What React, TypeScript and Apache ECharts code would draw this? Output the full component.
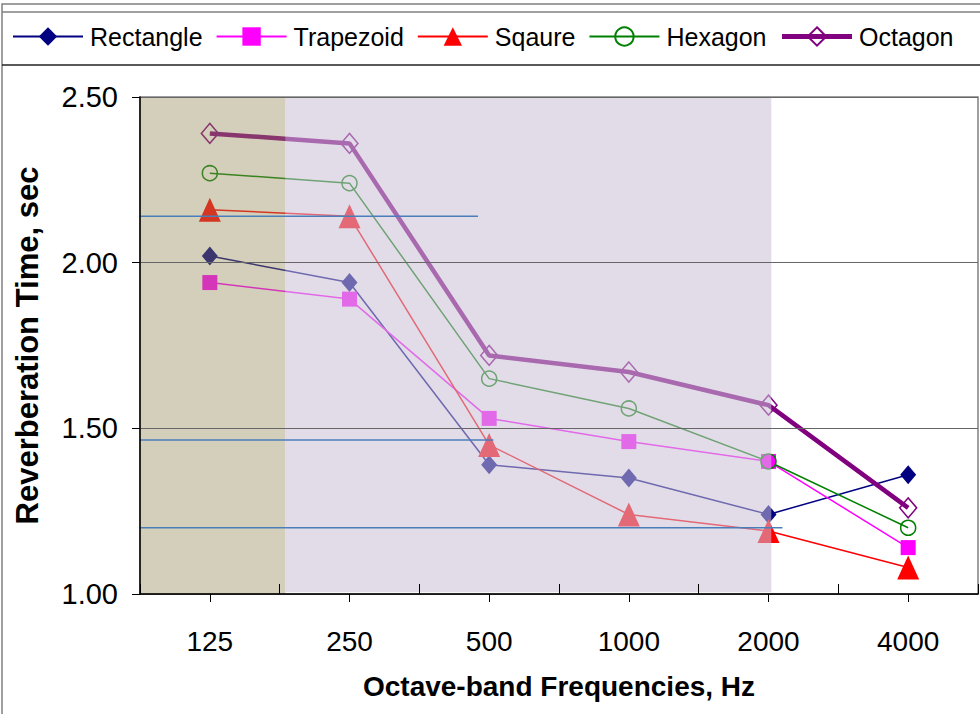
import React, { useEffect, useRef } from "react";
import * as echarts from "echarts";

const categories = ["125", "250", "500", "1000", "2000", "4000"];
const rectangle = [2.02, 1.94, 1.39, 1.35, 1.24, 1.36];
const trapezoid = [1.94, 1.89, 1.53, 1.46, 1.4, 1.14];
const sqaure = [2.16, 2.14, 1.45, 1.24, 1.19, 1.08];
const hexagon = [2.27, 2.24, 1.65, 1.56, 1.4, 1.2];
const octagon = [2.39, 2.36, 1.72, 1.67, 1.57, 1.26];

const yMin = 1.0;
const yMax = 2.5;
const yStep = 0.5;

// horizontal reference lines (value, start and end in category units)
const refLevels = [2.14, 1.465, 1.2];
const refStarts = [-0.1, -0.1, -0.1];
const refEnds = [2.42, 2.53, 4.6];

// shaded bands in category units
const bandStarts = [0, 1.04];
const bandEnds = [1.04, 4.52];
const bandBottoms = [1.0, 1.005];
const bandColors = ["rgba(148,135,82,0.4)", "rgba(202,191,213,0.55)"];

const FONT = "'Liberation Sans', Arial, Helvetica, sans-serif";

export default function App() {
  const ref = useRef<HTMLDivElement>(null);
  useEffect(() => {
    const chart = echarts.init(ref.current!, null, { renderer: "svg" });
    const mk = (
      name: string,
      data: number[],
      color: string,
      symbol: string,
      size: number | number[],
      hollow: boolean,
      width: number
    ) => ({
      name,
      type: "line",
      data,
      xAxisIndex: 0,
      yAxisIndex: 0,
      z: 2,
      symbol,
      symbolSize: size,
      lineStyle: { color, width },
      itemStyle: hollow
        ? { color: "rgba(255,255,255,0)", borderColor: color, borderWidth: 1.5 }
        : { color },
      emphasis: { disabled: true },
    });
    const series: any[] = [
      mk("Rectangle", rectangle, "#000080", "diamond", [16, 19], false, 1.5),
      mk("Trapezoid", trapezoid, "#FF00FF", "rect", [15, 15], false, 1.5),
      mk("Sqaure", sqaure, "#FF0000", "triangle", [22, 24], false, 1.5),
      mk("Hexagon", hexagon, "#008000", "circle", 15, true, 1.5),
      mk("Octagon", octagon, "#800080", "diamond", [17, 20], true, 4.5),
      {
        name: "bands",
        type: "custom",
        xAxisIndex: 2,
        yAxisIndex: 0,
        z: 3,
        silent: true,
        data: bandStarts.map((s, i) => [s, bandEnds[i], bandBottoms[i], yMax, i]),
        renderItem: (params: any, api: any) => {
          const p0 = api.coord([api.value(0), api.value(3)]);
          const p1 = api.coord([api.value(1), api.value(2)]);
          return {
            type: "rect",
            shape: { x: p0[0], y: p0[1], width: p1[0] - p0[0], height: p1[1] - p0[1] },
            style: { fill: bandColors[api.value(4)] },
          };
        },
      },
      ...refLevels.map((v, i) => ({
        name: "ref" + i,
        type: "line",
        xAxisIndex: 2,
        yAxisIndex: 0,
        data: [
          [refStarts[i], v],
          [refEnds[i], v],
        ],
        symbol: "none",
        clip: false,
        z: 4,
        silent: true,
        lineStyle: { color: "#4A7EBB", width: 1.5 },
      })),
    ];

    chart.setOption({
      animation: false,
      textStyle: { fontFamily: FONT },
      graphic: [
        {
          type: "rect",
          shape: { x: 2, y: 4, width: 1000, height: 720 },
          style: { fill: "none", stroke: "#808080", lineWidth: 1.5 },
          z: 10,
        },
        {
          type: "line",
          shape: { x1: 2, y1: 12, x2: 990, y2: 12 },
          style: { stroke: "#808080", lineWidth: 1.5 },
          z: 10,
        },
        {
          type: "line",
          shape: { x1: 2, y1: 65, x2: 990, y2: 65 },
          style: { stroke: "#222", lineWidth: 1.5 },
          z: 10,
        },
      ],
      legend: {
        data: [
          { name: "Rectangle" },
          { name: "Trapezoid" },
          { name: "Sqaure" },
          { name: "Hexagon" },
          { name: "Octagon", lineStyle: { width: 5 } },
        ],
        left: 12,
        top: 24,
        padding: 0,
        itemWidth: 70,
        itemHeight: 23,
        itemGap: 13,
        selectedMode: false,
        textStyle: {
          fontFamily: FONT,
          fontSize: 25,
          color: "#000",
          padding: [0, 0, 0, 2],
        },
      },
      grid: {
        left: 140,
        right: 2,
        top: 97,
        bottom: 120,
        show: true,
        borderColor: "#808080",
        borderWidth: 1.5,
        backgroundColor: "#fff",
        outerBoundsMode: "none",
        containLabel: false,
      },
      xAxis: [
        {
          type: "category",
          data: categories,
          position: "bottom",
          boundaryGap: true,
          z: 5,
          axisLine: { show: true, lineStyle: { color: "#000", width: 1.5 } },
          axisTick: {
            show: true,
            alignWithLabel: true,
            inside: false,
            length: 8,
            lineStyle: { color: "#000" },
          },
          axisLabel: {
            fontFamily: FONT,
            fontSize: 28,
            color: "#000",
            margin: 33,
          },
          name: "Octave-band Frequencies, Hz",
          nameLocation: "middle",
          nameGap: 78,
          nameTextStyle: {
            fontFamily: FONT,
            fontSize: 28,
            fontWeight: "bold",
            color: "#000",
          },
        },
        {
          type: "category",
          data: categories,
          position: "bottom",
          boundaryGap: true,
          z: 5,
          axisLine: { show: false },
          axisTick: {
            show: true,
            alignWithLabel: false,
            inside: true,
            length: 10,
            lineStyle: { color: "#000" },
          },
          axisLabel: { show: false },
        },
        {
          type: "value",
          min: 0,
          max: categories.length,
          show: false,
        },
      ],
      yAxis: {
        type: "value",
        min: yMin,
        max: yMax,
        interval: yStep,
        z: 5,
        axisLine: { show: true, lineStyle: { color: "#000", width: 1.5 } },
        axisTick: { show: true, length: 8, lineStyle: { color: "#000" } },
        axisLabel: {
          fontFamily: FONT,
          fontSize: 29,
          color: "#000",
          margin: 22,
          formatter: (v: number) => v.toFixed(2),
        },
        splitLine: { show: true, lineStyle: { color: "#666", width: 1.2 } },
        name: "Reverberation Time, sec",
        nameLocation: "middle",
        nameGap: 97,
        nameTextStyle: {
          fontFamily: FONT,
          fontSize: 31,
          fontWeight: "bold",
          color: "#000",
        },
      },
      series,
    });
    return () => chart.dispose();
  }, []);
  return (
    <div
      ref={ref}
      style={{ position: "fixed", left: 0, top: 0, width: 980, height: 714, background: "#fff" }}
    />
  );
}
